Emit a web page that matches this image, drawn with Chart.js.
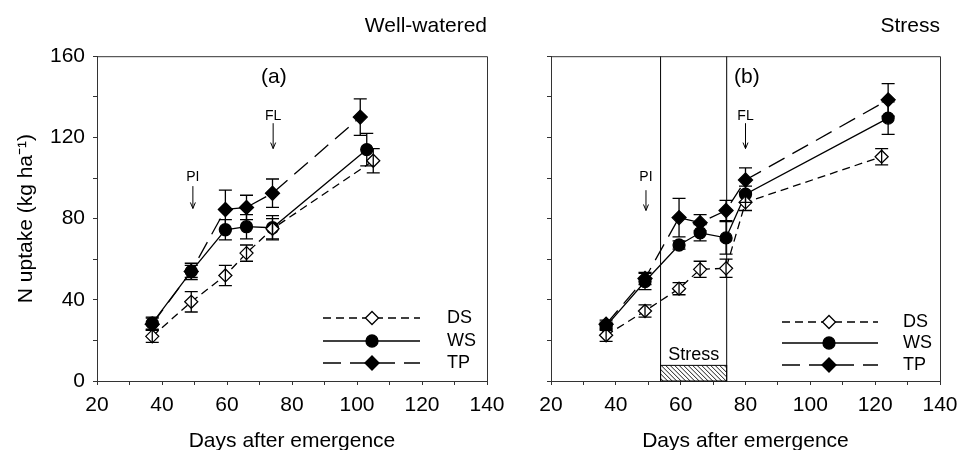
<!DOCTYPE html>
<html>
<head>
<meta charset="utf-8">
<script src="https://cdn.jsdelivr.net/npm/chart.js@4.4.0/dist/chart.umd.min.js"></script>
<style>
  html, body { margin: 0; padding: 0; background: #fff; }
  #wrap { position: relative; width: 959px; height: 450px; overflow: hidden; }
  .panel { position: absolute; top: 0; height: 450px; }
  #p1 { left: 0; width: 520px; }
  #p2 { left: 480px; width: 479px; }
</style>
</head>
<body>
<div id="wrap">
  <div class="panel" id="p1"><canvas id="c1"></canvas></div>
  <div class="panel" id="p2"><canvas id="c2"></canvas></div>
</div>
<script>
// N uptake, well-watered (a) and stress (b) panels

const seriesNames = ['DS', 'WS', 'TP'];

// (a) Well-watered
const wwDaysDS = [37, 49, 59.5, 66, 74, 105];
const wwDaysWS = [37, 49, 59.5, 66, 74, 103];
const wwDaysTP = [37, 49, 59.5, 66, 74, 101];
const wwDS    = [22, 39, 52, 63, 75, 108.5];
const wwDSerr = [3, 5, 5, 4, 5, 6];
const wwWS    = [28.5, 54, 74.5, 76, 75.5, 114];
const wwWSerr = [3, 4, 5, 6, 6, 8];
const wwTP    = [28, 54, 84.5, 85.5, 92.5, 130];
const wwTPerr = [3, 3, 9.5, 6, 7, 9];

// (b) Stress
const stDaysDS = [37, 49, 59.5, 66, 74, 80, 122];
const stDaysWS = [37, 49, 59.5, 66, 74, 80, 124];
const stDaysTP = [37, 49, 59.5, 66, 74, 80, 124];
const stDS    = [22.5, 34.5, 45.5, 55, 55.5, 88, 110.5];
const stDSerr = [3, 3, 3, 4, 4.5, 4, 4];
const stWS    = [27, 49, 67, 73, 70.5, 92, 129.5];
const stWSerr = [2, 4, 2, 4, 8, 4, 8];
const stTP    = [28, 50.5, 80.5, 78, 84, 99, 138.5];
const stTPerr = [2, 3, 9.5, 4, 5, 6, 8];

const stressPeriod = [53.8, 74.2];

const xTicks = [20, 40, 60, 80, 100, 120, 140];
const yTicks = [0, 40, 80, 120, 160];

Chart.defaults.font.family = '"Liberation Sans", Arial, Helvetica, sans-serif';
Chart.defaults.color = '#000';

const styles = {
  DS: { borderDash: [8, 5],  pointStyle: 'rectRot', pointRadius: 6.5, pointBackgroundColor: '#fff' },
  WS: { borderDash: [],      pointStyle: 'circle',  pointRadius: 6,   pointBackgroundColor: '#000' },
  TP: { borderDash: [18, 9], pointStyle: 'rectRot', pointRadius: 7,   pointBackgroundColor: '#000' },
};

function makeDataset(name, days, vals, errs) {
  return Object.assign({
    label: name,
    data: days.map((d, i) => ({ x: d, y: vals[i] })),
    errors: errs,
    borderColor: '#000',
    borderWidth: 1.3,
    pointBorderColor: '#000',
    pointBorderWidth: 1.3,
    tension: 0,
    fill: false,
  }, styles[name]);
}

function xScale() {
  return {
    type: 'linear', min: 20, max: 140,
    ticks: {
      stepSize: 10, autoSkip: false, maxRotation: 0, font: { size: 21 }, padding: 8,
      callback: v => xTicks.includes(v) ? v : '',
    },
    grid: { drawOnChartArea: false, tickLength: 4, color: '#333' },
    border: { color: '#333', width: 1 },
    title: { display: true, text: 'Days after emergence', font: { size: 21, lineHeight: 1 }, padding: { top: 0, bottom: -2 } },
    afterFit: s => { s.height = 69; s.paddingLeft = 0; s.paddingRight = 0; },
  };
}

function yScale(showLabels, width) {
  return {
    type: 'linear', min: 0, max: 160,
    ticks: {
      stepSize: 20, font: { size: 21 }, padding: 8,
      callback: v => (showLabels && yTicks.includes(v)) ? v : '',
    },
    grid: { drawOnChartArea: false, tickLength: 4, color: '#333' },
    border: { color: '#333', width: 1 },
    title: { display: showLabels, text: 'N uptake (kg ha\u207B\u00B9)', font: { size: 21 }, padding: { top: 14, bottom: 0 } },
    afterFit: s => { s.width = width; s.paddingTop = 0; s.paddingBottom = 0; },
  };
}

// box round the plot area
const framePlugin = {
  id: 'frame',
  afterDraw(chart) {
    const { ctx, chartArea: a } = chart;
    ctx.save();
    ctx.strokeStyle = '#333';
    ctx.lineWidth = 1;
    ctx.beginPath();
    ctx.moveTo(a.left, a.top + 0.5);
    ctx.lineTo(a.right + 0.5, a.top + 0.5);
    ctx.lineTo(a.right + 0.5, a.bottom);
    ctx.stroke();
    ctx.restore();
  }
};

const errorBarPlugin = {
  id: 'errorBars',
  afterDatasetsDraw(chart) {
    const { ctx, scales: { x, y } } = chart;
    ctx.save();
    ctx.strokeStyle = '#000';
    ctx.lineWidth = 1.3;
    chart.data.datasets.forEach(ds => {
      ds.data.forEach((p, i) => {
        const e = ds.errors[i];
        const px = x.getPixelForValue(p.x);
        const y1 = y.getPixelForValue(p.y + e);
        const y2 = y.getPixelForValue(p.y - e);
        ctx.beginPath();
        ctx.moveTo(px, y1); ctx.lineTo(px, y2);
        ctx.moveTo(px - 6.5, y1); ctx.lineTo(px + 6.5, y1);
        ctx.moveTo(px - 6.5, y2); ctx.lineTo(px + 6.5, y2);
        ctx.stroke();
      });
    });
    ctx.restore();
  }
};

const annotationPlugin = {
  id: 'notes',
  beforeDatasetsDraw(chart, args, opts) {
    const { ctx, chartArea: a, scales: { x, y } } = chart;
    ctx.save();
    if (opts.stress) {
      const x1 = x.getPixelForValue(opts.stress[0]);
      const x2 = x.getPixelForValue(opts.stress[1]);
      const yb = y.getPixelForValue(0);
      const yt = y.getPixelForValue(7.7);
      ctx.strokeStyle = '#000';
      ctx.lineWidth = 1;
      ctx.beginPath();
      ctx.moveTo(x1, a.top); ctx.lineTo(x1, a.bottom);
      ctx.moveTo(x2, a.top); ctx.lineTo(x2, a.bottom);
      ctx.stroke();
      // hatched bar
      ctx.save();
      ctx.beginPath();
      ctx.rect(x1, yt, x2 - x1, yb - yt);
      ctx.clip();
      ctx.beginPath();
      for (let k = x1 - 40; k < x2 + 40; k += 4.5) {
        ctx.moveTo(k, yt); ctx.lineTo(k + (yb - yt), yb);
      }
      ctx.lineWidth = 0.9;
      ctx.stroke();
      ctx.restore();
      ctx.strokeRect(x1, yt, x2 - x1, yb - yt);
      ctx.font = '18px "Liberation Sans", Arial, sans-serif';
      ctx.textAlign = 'center';
      ctx.textBaseline = 'middle';
      ctx.fillStyle = '#000';
      ctx.fillText('Stress', x.getPixelForValue((opts.stress[0] + opts.stress[1]) / 2), y.getPixelForValue(12.8));
    }
    ctx.fillStyle = '#000';
    ctx.textAlign = 'center';
    ctx.textBaseline = 'middle';
    ctx.font = '21px "Liberation Sans", Arial, sans-serif';
    ctx.fillText(opts.tag.text, x.getPixelForValue(opts.tag.x), y.getPixelForValue(opts.tag.y));
    ctx.font = '14px "Liberation Sans", Arial, sans-serif';
    opts.stages.forEach(s => {
      const px = x.getPixelForValue(s.x);
      ctx.fillText(s.text, px, y.getPixelForValue(s.y));
      const ya = y.getPixelForValue(s.from);
      const yz = y.getPixelForValue(s.to);
      ctx.strokeStyle = '#000';
      ctx.lineWidth = 1;
      ctx.beginPath();
      ctx.moveTo(px, ya); ctx.lineTo(px, yz);
      ctx.moveTo(px - 2.5, yz - 6); ctx.lineTo(px, yz); ctx.lineTo(px + 2.5, yz - 6);
      ctx.stroke();
    });
    ctx.restore();
  }
};

const legendPlugin = {
  id: 'boxLegend',
  afterDraw(chart, args, opts) {
    const { ctx, chartArea: a } = chart;
    ctx.save();
    chart.data.datasets.forEach((ds, i) => {
      const yy = a.bottom - opts.rows[i];
      ctx.strokeStyle = '#000';
      ctx.lineWidth = 1.3;
      ctx.setLineDash(ds.borderDash);
      ctx.beginPath();
      ctx.moveTo(a.right - opts.lineFrom, yy);
      ctx.lineTo(a.right - opts.lineTo, yy);
      ctx.stroke();
      ctx.setLineDash([]);
      ctx.fillStyle = ds.pointBackgroundColor;
      Chart.helpers.drawPoint(ctx, { pointStyle: ds.pointStyle, radius: ds.pointRadius, borderWidth: 1.3, rotation: 0 },
        a.right - opts.marker, yy);
      ctx.fillStyle = '#000';
      ctx.font = '18px "Liberation Sans", Arial, sans-serif';
      ctx.textAlign = 'left';
      ctx.textBaseline = 'middle';
      ctx.fillText(ds.label, a.right - opts.text, yy);
    });
    ctx.restore();
  }
};

function makeChart(id, datasets, cfg) {
  return new Chart(document.getElementById(id), {
    type: 'line',
    data: { datasets },
    plugins: [framePlugin, annotationPlugin, errorBarPlugin, legendPlugin],
    options: {
      responsive: true,
      maintainAspectRatio: false,
      animation: false,
      devicePixelRatio: 1,
      layout: { padding: { top: 0, right: cfg.padRight, left: 0, bottom: 0 } },
      scales: { x: xScale(), y: yScale(cfg.yLabels, cfg.yWidth) },
      plugins: {
        legend: { display: false },
        tooltip: { enabled: false },
        title: {
          display: true, text: cfg.title, align: 'end',
          font: { size: 21, weight: 'normal' }, color: '#000',
          padding: { top: 14, bottom: 17 },
        },
        notes: cfg.notes,
        boxLegend: cfg.legend,
      },
    },
  });
}

makeChart('c1', [
  makeDataset('DS', wwDaysDS, wwDS, wwDSerr),
  makeDataset('WS', wwDaysWS, wwWS, wwWSerr),
  makeDataset('TP', wwDaysTP, wwTP, wwTPerr),
], {
  title: 'Well-watered', padRight: 33, yLabels: true, yWidth: 97,
  notes: {
    tag: { text: '(a)', x: 74.4, y: 149.5 },
    stages: [
      { text: 'PI', x: 49.5, y: 100.5, from: 96, to: 85 },
      { text: 'FL', x: 74.2, y: 130.5, from: 127, to: 114.5 },
    ],
  },
  legend: { rows: [63, 40, 18], lineFrom: 164, lineTo: 67, marker: 115, text: 40 },
});

makeChart('c2', [
  makeDataset('DS', stDaysDS, stDS, stDSerr),
  makeDataset('WS', stDaysWS, stWS, stWSerr),
  makeDataset('TP', stDaysTP, stTP, stTPerr),
], {
  title: 'Stress', padRight: 19, yLabels: false, yWidth: 71,
  notes: {
    stress: stressPeriod,
    tag: { text: '(b)', x: 80.4, y: 149.5 },
    stages: [
      { text: 'PI', x: 49.3, y: 100.5, from: 94, to: 84 },
      { text: 'FL', x: 80, y: 130.5, from: 127, to: 114.5 },
    ],
  },
  legend: { rows: [59, 38, 16], lineFrom: 158, lineTo: 62, marker: 111, text: 37 },
});
</script>
</body>
</html>
